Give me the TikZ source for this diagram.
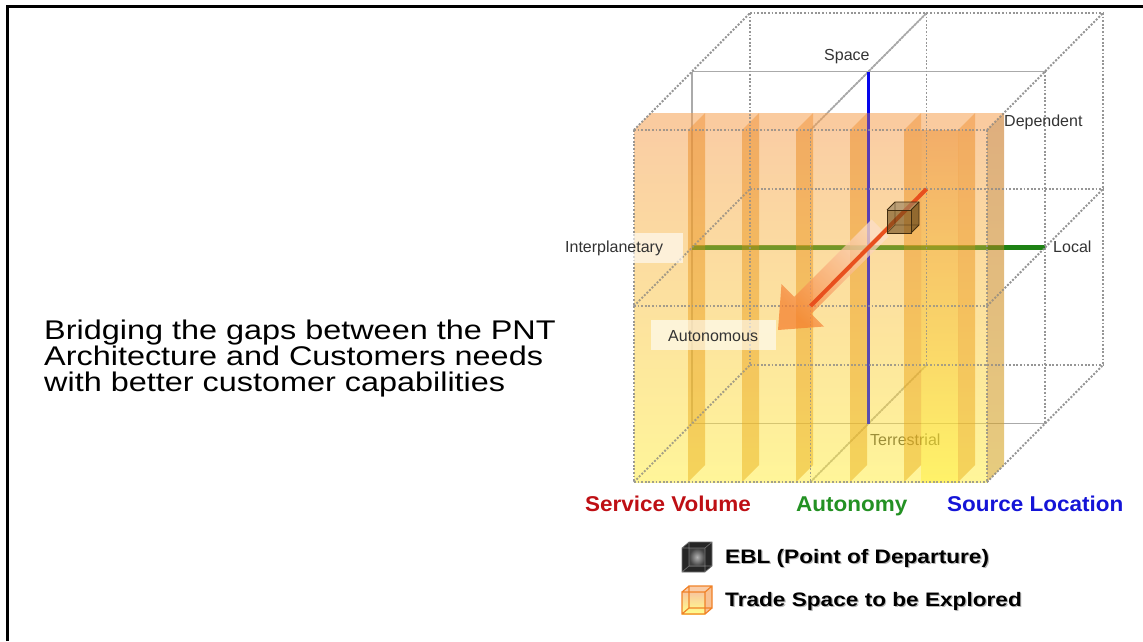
\documentclass[tikz,border=0pt]{standalone}
\usepackage{fontspec}
\setmainfont{Liberation Sans}
\newfontfamily\bigfont[FakeStretch=1.2]{Liberation Sans}
\newfontfamily\legfont[FakeStretch=1.16]{Liberation Sans}
\newfontfamily\labfont[FakeStretch=1.05]{Liberation Sans}
\usetikzlibrary{calc}
\definecolor{dotgray}{RGB}{150,150,150}
\definecolor{solgray}{RGB}{170,170,170}
\definecolor{axblue}{RGB}{5,5,235}
\definecolor{axgreen}{RGB}{30,130,20}
\definecolor{axred}{RGB}{232,80,30}
\definecolor{boxtop}{RGB}{245,160,80}
\definecolor{boxbot}{RGB}{255,236,60}
\definecolor{striptop}{RGB}{235,135,35}
\definecolor{stripbot}{RGB}{235,180,30}
\definecolor{sidetop}{RGB}{200,120,40}
\definecolor{sidebot}{RGB}{215,170,40}
\definecolor{arrowc}{RGB}{245,125,45}
\definecolor{svred}{RGB}{190,15,20}
\definecolor{augreen}{RGB}{35,145,35}
\definecolor{slblue}{RGB}{20,20,215}
\definecolor{eblbrown}{RGB}{110,75,25}
\definecolor{tradeor}{RGB}{240,130,40}
\tikzset{
  dotline/.style={draw=dotgray, line width=1.8pt, dash pattern=on 1.8pt off 1.8pt},
  solline/.style={draw=solgray, line width=1.4pt},
  smalllab/.style={font=\fontsize{16}{19}\selectfont, text=black!80, inner sep=0pt, anchor=base west},
  mainline/.style={font=\bigfont\fontsize{27}{26}\selectfont, inner sep=0pt, anchor=base west},
  dimlab/.style={font=\labfont\bfseries\fontsize{21.4}{24}\selectfont, inner sep=0pt, anchor=base west},
  legtext/.style={font=\legfont\bfseries\fontsize{19.5}{22}\selectfont, inner sep=0pt, anchor=base west},
  labbox/.style={fill=white, fill opacity=.6}
}
\begin{document}
\begin{tikzpicture}[x=1pt,y=-1pt]
\useasboundingbox (0,0) rectangle (1143,641);
% frame
\draw[line width=2.7pt] (7.3,641) -- (7.3,6.7) -- (1143,6.7);

% lattice points
\foreach \i in {0,1,2}{\foreach \j in {0,1,2}{\foreach \k in {0,1,2}{
  \coordinate (p\i\j\k) at ({634+176.5*\i+58*\k},{130+176*\j-58.5*\k});
}}}
% dotted lattice
\foreach \j in {0,1,2}{\foreach \k in {0,1,2}{\draw[dotline] (p0\j\k) -- (p2\j\k);}}
\foreach \i in {0,1,2}{\foreach \k in {0,1,2}{\draw[dotline] (p\i0\k) -- (p\i2\k);}}
\foreach \i in {0,1,2}{\foreach \j in {0,1,2}{\draw[dotline] (p\i\j0) -- (p\i\j2);}}
% solid lines
\draw[solline] (p001) -- (p201);
\draw[solline] (p021) -- (p221);
\draw[solline] (p001) -- (p021);
\draw[solline] (p100) -- (p102);
\draw[solline] (p120) -- (p122);
% axes
\draw[axblue, line width=3.5pt] (p101) -- (p121);
\draw[axgreen, line width=4.5pt] (p011) -- (p211);
\node[smalllab] (terr) at (870,445) {Terrestrial};

% trade space box
\shade[fill opacity=.52, top color=boxtop, bottom color=boxbot] (634,130) rectangle (987,482);
\shade[fill opacity=.45, top color=striptop, bottom color=boxbot!80!yellow] (921,130) rectangle (958,482);
\foreach \p in {688,742,796,850,904,958}{
  \shade[fill opacity=.5, top color=striptop, bottom color=stripbot] (\p,130) -- ({\p+17},113) -- ({\p+17},465) -- (\p,482) -- cycle;
}
\fill[fill opacity=.55, boxtop] (634,130) -- (651,113) -- (1004,113) -- (987,130) -- cycle;
\shade[fill opacity=.6, top color=sidetop, bottom color=sidebot] (987,130) -- (1004,113) -- (1004,465) -- (987,482) -- cycle;

% axes seen through the box
\draw[axblue, line width=3pt, draw opacity=.35] (p101) -- (p121);
\draw[axgreen, line width=4pt, draw opacity=.25] (p011) -- (p211);

% dotted lattice again (over the box)
\begin{scope}[draw opacity=.75]
\foreach \j in {0,2}{\foreach \k in {0,2}{\draw[dotline] (p0\j\k) -- (p2\j\k);}}
\draw[dotline] (p010) -- (p210); \draw[dotline] (p012) -- (p212);
\foreach \i in {0,1,2}{\foreach \k in {0,2}{\draw[dotline] (p\i0\k) -- (p\i2\k);}}
\draw[dotline] (p201) -- (p221);
\foreach \i in {0,2}{\foreach \j in {0,1,2}{\draw[dotline] (p\i\j0) -- (p\i\j2);}}
\end{scope}

% big arrow
\shade[fill opacity=.72, top color=arrowc!25, bottom color=arrowc, shading angle=-45]
  (888.5,236.5) -- (811.2,313.8) -- (824,326.5) -- (778,330) -- (781.5,284) -- (794.2,296.8) -- (871.5,219.5) -- cycle;
% depth axis
\draw[axred, line width=4pt] (p110) -- (p112);
% EBL cube in the figure
\begin{scope}[line width=.9pt]
\fill[eblbrown, fill opacity=.6] (887,210) rectangle (911,233);
\fill[eblbrown!70!white, fill opacity=.65] (887,210) -- (895,202) -- (919,202) -- (911,210) -- cycle;
\fill[eblbrown!85!black, fill opacity=.65] (911,210) -- (919,202) -- (919,225) -- (911,233) -- cycle;
\draw[eblbrown!60!black] (887,210) rectangle (911,233);
\draw[eblbrown!60!black] (887,210) -- (895,202) -- (919,202) -- (919,225) -- (911,233);
\draw[eblbrown!60!black] (911,210) -- (919,202);
\draw[eblbrown!60!black, draw opacity=.6] (895,202) -- (895,225) -- (919,225) (895,225) -- (887,233);
\end{scope}

% label backgrounds and labels
\fill[labbox] (560,233) rectangle (683,263);
\fill[labbox] (651,320) rectangle (776,350);
\node[smalllab] (interp) at (565,252.7) {Interplanetary};
\node[smalllab] (auton) at (668,341.7) {Autonomous};
\node[smalllab] (space) at (824,60.5) {Space};
\node[smalllab] (dep) at (1004,126.7) {Dependent};
\node[smalllab] (local) at (1053,252.7) {Local};

% main text
\node[mainline] (m1) at (44,339.3) {Bridging the gaps between the PNT};
\node[mainline] (m2) at (44,365.4) {Architecture and Customers needs};
\node[mainline] (m3) at (44,391.4) {with better customer capabilities};

% dimension labels
\node[dimlab, text=svred] (sv) at (585,511) {Service Volume};
\node[dimlab, text=augreen] (au) at (796,511) {Autonomy};
\node[dimlab, text=slblue] (sl) at (947,511) {Source Location};

% legend icons
\fill[black!85] (682,548) -- (689,542) -- (712,542) -- (712,566) -- (705,572) -- (682,572) -- cycle;
\shade[inner color=black!30, outer color=black!75] (689,548) rectangle (705,566);
\draw[black!55, line width=.6pt] (682,548) rectangle (705,572) (689,542) rectangle (712,566)
  (682,548) -- (689,542) (705,548) -- (712,542) (705,572) -- (712,566) (682,572) -- (689,566);
\shade[top color=tradeor!45, bottom color=yellow!45] (682,592) rectangle (705,614);
\fill[tradeor!40] (682,592) -- (689,586) -- (712,586) -- (705,592) -- cycle;
\fill[tradeor!50] (705,592) -- (712,586) -- (712,608) -- (705,614) -- cycle;
\draw[tradeor, line width=1.2pt] (682,592) rectangle (705,614) (689,586) rectangle (712,608)
  (682,592) -- (689,586) (705,592) -- (712,586) (705,614) -- (712,608) (682,614) -- (689,608);
% legend text
\node[legtext, text=black!28] (ebls) at (726.2,564.5) {EBL (Point of Departure)};
\node[legtext] (ebl) at (725,563.3) {EBL (Point of Departure)};
\node[legtext, text=black!28] (trs) at (726.2,607.9) {Trade Space to be Explored};
\node[legtext] (tr) at (725,606.7) {Trade Space to be Explored};
\end{tikzpicture}
\end{document}
